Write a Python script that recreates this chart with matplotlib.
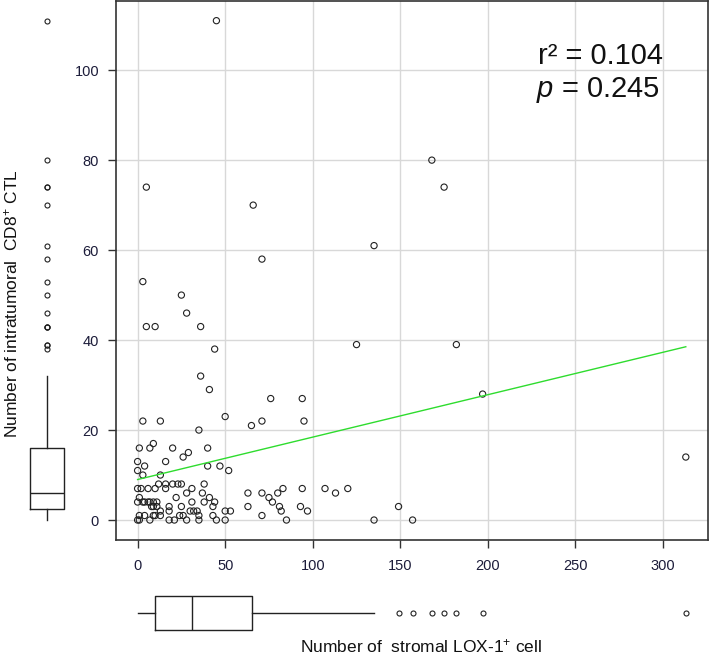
import numpy as np
import matplotlib
matplotlib.use('Agg')
import matplotlib.pyplot as plt

plt.rcParams['font.family'] = ['Liberation Sans', 'DejaVu Sans']
plt.rcParams['mathtext.fontset'] = 'custom'
plt.rcParams['mathtext.rm'] = 'Liberation Sans'
plt.rcParams['mathtext.it'] = 'Liberation Sans:italic'

# stromal LOX-1+ cell count (x) vs intratumoral CD8+ CTL count (y)
lox1 = [45, 168, 5, 175, 66, 135, 71, 3, 25, 28, 5, 10, 36, 125, 182, 44,
        36, 41, 197, 76, 94, 50, 3, 13, 71, 95, 65, 35,
        0, 4, 16, 40, 47, 52, 0, 3, 13, 1, 7, 9, 20, 40, 26, 29, 313,
        12, 16, 20, 23, 25, 38,
        0, 2, 6, 10, 16, 31, 94, 107, 120, 83,
        28, 37, 63, 71, 80, 113,
        1, 22, 41, 75,
        0, 3, 4, 6, 7, 9, 11, 31, 38, 44, 77,
        8, 9, 11, 18, 25, 43, 63, 81, 93, 149,
        13, 18, 30, 32, 34, 50, 53, 82, 97,
        1, 4, 9, 10, 13, 24, 26, 35, 43, 71,
        0, 1, 7, 18, 21, 28, 35, 45, 50, 85, 135, 157]
cd8 = [111, 80, 74, 74, 70, 61, 58, 53, 50, 46, 43, 43, 43, 39, 39, 38,
       32, 29, 28, 27, 27, 23, 22, 22, 22, 22, 21, 20,
       13, 12, 13, 12, 12, 11, 11, 10, 10, 16, 16, 17, 16, 16, 14, 15, 14,
       8, 8, 8, 8, 8, 8,
       7, 7, 7, 7, 7, 7, 7, 7, 7, 7,
       6, 6, 6, 6, 6, 6,
       5, 5, 5, 5,
       4, 4, 4, 4, 4, 4, 4, 4, 4, 4, 4,
       3, 3, 3, 3, 3, 3, 3, 3, 3, 3,
       2, 2, 2, 2, 2, 2, 2, 2, 2,
       1, 1, 1, 1, 1, 1, 1, 1, 1, 1,
       0, 0, 0, 0, 0, 0, 0, 0, 0, 0, 0, 0]

fit_intercept = 9.0
fit_slope = 0.0943
r2_text = "r\u00b2 = 0.104"
p_text = "$p$ = 0.245"

x = np.array(lox1, dtype=float)
y = np.array(cd8, dtype=float)


def tukey_stats(v):
    # R style boxplot stats: Tukey hinges, whiskers at 1.5 * IQR
    v = np.sort(v)
    n = len(v)
    med = np.median(v)
    half = (n + 1) // 2
    q1 = np.median(v[:half])
    q3 = np.median(v[n - half:])
    iqr = q3 - q1
    inside = v[(v >= q1 - 1.5 * iqr) & (v <= q3 + 1.5 * iqr)]
    return dict(med=med, q1=q1, q3=q3, whislo=inside.min(), whishi=inside.max(),
                fliers=v[(v < inside.min()) | (v > inside.max())])


W, H = 709, 664
fig = plt.figure(figsize=(W / 100, H / 100), dpi=100)

def box(l, t, r, b):
    return [l / W, (H - b) / H, (r - l) / W, (b - t) / H]

ink = '#222222'
ax = fig.add_axes(box(115.7, 0.7, 707.7, 540))
ax.scatter(x, y, s=20, facecolors='none', edgecolors=ink, linewidths=0.8, zorder=3)
xs = np.array([x.min(), x.max()])
ax.plot(xs, fit_intercept + fit_slope * xs, color='#2edc2e', lw=1.0, zorder=4)

ax.grid(True, color='#d8d8d8', lw=1.0)
ax.set_axisbelow(True)
for s in ax.spines.values():
    s.set_color('#333333')
    s.set_linewidth(1.2)
ax.tick_params(axis='both', direction='out', length=6, width=1.0, color='#333333',
               labelsize=10.5, labelcolor='#1c1c3a')
ax.tick_params(axis='x', pad=8)
ax.tick_params(axis='y', pad=6)

ax.text(663 / W, (H - 64) / H, r2_text, transform=fig.transFigure, ha='right',
        va='baseline', fontsize=21, color='#111111')
ax.text(660 / W, (H - 97) / H, p_text, transform=fig.transFigure, ha='right',
        va='baseline', fontsize=21, color='#111111')

flier = dict(marker='o', markersize=3.6, markerfacecolor='none',
             markeredgecolor=ink, markeredgewidth=0.8)
line = dict(color=ink, lw=1.0)

# marginal boxplot of y on the left
axl = fig.add_axes(box(20, 0.7, 75, 540), sharey=ax)
axl.bxp([tukey_stats(y)], positions=[27.3], widths=34, showcaps=False,
        flierprops=flier, boxprops=line, whiskerprops=line, medianprops=line)
axl.set_xlim(0, 55)
axl.axis('off')

# marginal boxplot of x at the bottom
axb = fig.add_axes(box(115.7, 590, 707.7, 636), sharex=ax)
axb.bxp([tukey_stats(x)], positions=[23], widths=34, vert=False, showcaps=False,
        flierprops=flier, boxprops=line, whiskerprops=line, medianprops=line)
axb.set_ylim(0, 46)
axb.axis('off')

ax.set_xlim(-12.5, 325.5)
ax.set_ylim(-4.44, 115.44)
ax.set_xticks(np.arange(0, 301, 50))
ax.set_yticks(np.arange(0, 101, 20))

fig.text(11 / W, (H - 304) / H, "Number of intratumoral  CD8$^{+}$ CTL", rotation=90,
         ha='center', va='center', fontsize=12.5, color='#111111')
fig.text(421 / W, (H - 646) / H, "Number of  stromal LOX-1$^{+}$ cell",
         ha='center', va='center', fontsize=12.5, color='#111111')

fig.savefig('out.png', dpi=100)
